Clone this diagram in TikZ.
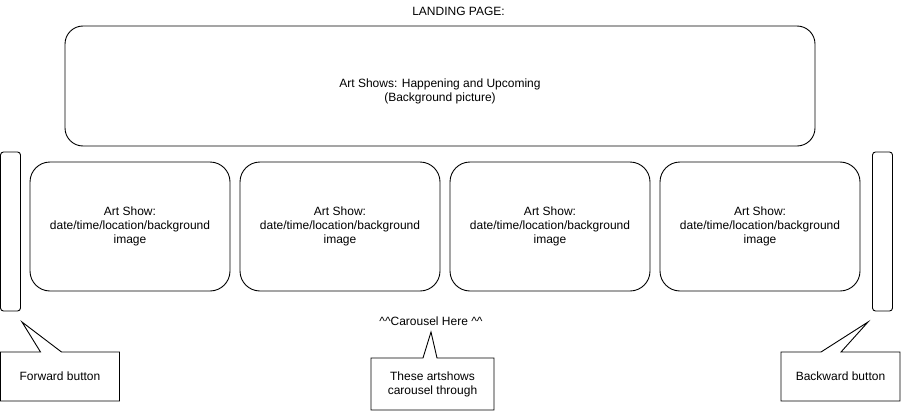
\documentclass[tikz,border=0pt]{standalone}
\usepackage{fontspec}
\setmainfont{Liberation Sans}
\usetikzlibrary{calc}
\begin{document}
\begin{tikzpicture}[x=1pt,y=-1pt,line width=0.9pt,
  every node/.style={font=\fontsize{12}{14}\selectfont,align=center,inner sep=0pt,outer sep=0pt},
  herobox/.style={draw,rounded corners=18pt,minimum width=750pt,minimum height=120pt},
  cardbox/.style={draw,rounded corners=20pt,minimum width=200pt,minimum height=129pt},
  barbox/.style={draw,rounded corners=3pt,minimum width=20pt,minimum height=159pt},
  notebox/.style={minimum width=119pt,minimum height=49pt},
  noteline/.style={draw,line join=miter}]
\useasboundingbox (0,0) rectangle (901,412);

\node (title) at (458.5,11) {LANDING PAGE:};

\node[herobox] (hero) at (440,86) {};
\node (herotext) at ($(hero.center)+(0,5.5)$) {Art Shows: Happening and Upcoming\\(Background picture)};

\node[cardbox] (c1) at (130,226.5) {Art Show:\\date/time/location/background\\image};
\node[cardbox] (c2) at (340,226.5) {Art Show:\\date/time/location/background\\image};
\node[cardbox] (c3) at (550,226.5) {Art Show:\\date/time/location/background\\image};
\node[cardbox] (c4) at (760,226.5) {Art Show:\\date/time/location/background\\image};

\node[barbox] (fwdbar) at (10.5,231.5) {};
\node[barbox] (backbar) at (882.5,231.5) {};

\node (carousel) at (431,321.5) {\textasciicircum\textasciicircum Carousel Here \textasciicircum\textasciicircum};

% Forward callout
\node[notebox] (fwdnote) at (60,376.5) {Forward button};
\coordinate (fwdtip) at (22,322);
\draw[noteline] (fwdnote.north west) -- ($(fwdnote.north west)+(40,0)$) -- (fwdtip)
  -- ($(fwdnote.north west)+(61,0)$) -- (fwdnote.north east) -- (fwdnote.south east)
  -- (fwdnote.south west) -- cycle;

% Carousel callout
\node[notebox,minimum width=123pt,minimum height=52pt] (carnote) at (432.5,384) {These artshows\\carousel through};
\coordinate (cartip) at (431,332);
\draw[noteline] (carnote.north west) -- ($(carnote.north west)+(52,0)$) -- (cartip)
  -- ($(carnote.north west)+(66,0)$) -- (carnote.north east) -- (carnote.south east)
  -- (carnote.south west) -- cycle;

% Backward callout
\node[notebox] (backnote) at (840.5,376.5) {Backward button};
\coordinate (backtip) at (868,322);
\draw[noteline] (backnote.north west) -- ($(backnote.north west)+(40,0)$) -- (backtip)
  -- ($(backnote.north west)+(60,0)$) -- (backnote.north east) -- (backnote.south east)
  -- (backnote.south west) -- cycle;
\end{tikzpicture}
\end{document}
